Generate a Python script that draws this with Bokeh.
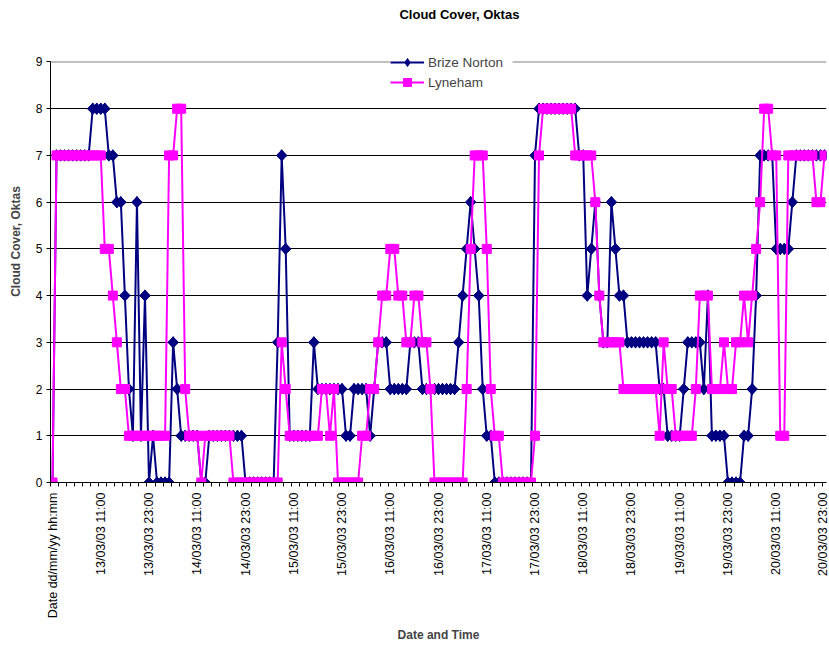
from math import pi
import numpy as np
from bokeh.plotting import figure
from bokeh.models import FixedTicker, Range1d, Label, Legend, LegendItem
from bokeh.embed import file_html
from bokeh.resources import INLINE

# ---------------- data ----------------
tick_labels = ["Date dd/mm/yy hh:mm", "13/03/03 11:00", "13/03/03 23:00",
               "14/03/03 11:00", "14/03/03 23:00", "15/03/03 11:00",
               "15/03/03 23:00", "16/03/03 11:00", "16/03/03 23:00",
               "17/03/03 11:00", "17/03/03 23:00", "18/03/03 11:00",
               "18/03/03 23:00", "19/03/03 11:00", "19/03/03 23:00",
               "20/03/03 11:00", "20/03/03 23:00"]
tick_every = 12  # hourly categories, one label every 12 hours

brize_norton = [
    0, 7, 7, 7, 7, 7, 7, 7, 7, 7, 8, 8,
    8, 8, 7, 7, 6, 6, 4, 2, 1, 6, 1, 4,
    0, 1, 0, 0, 0, 0, 3, 2, 1, 1, 1, 1,
    1, 0, 0, 1, 1, 1, 1, 1, 1, 1, 1, 1,
    0, 0, 0, 0, 0, 0, 0, 0, 3, 7, 5, 1,
    1, 1, 1, 1, 1, 3, 2, 2, 2, 2, 2, 2,
    2, 1, 1, 2, 2, 2, 2, 1, 2, 3, 3, 3,
    2, 2, 2, 2, 2, 3, 3, 3, 2, 2, 2, 2,
    2, 2, 2, 2, 2, 3, 4, 5, 6, 5, 4, 2,
    1, 1, 0, 0, 0, 0, 0, 0, 0, 0, 0, 0,
    7, 8, 8, 8, 8, 8, 8, 8, 8, 8, 8, 7,
    7, 4, 5, 6, 4, 3, 3, 6, 5, 4, 4, 3,
    3, 3, 3, 3, 3, 3, 3, 2, 2, 1, 1, 1,
    1, 2, 3, 3, 3, 3, 2, 4, 1, 1, 1, 1,
    0, 0, 0, 0, 1, 1, 2, 4, 7, 7, 7, 7,
    5, 5, 5, 5, 6, 7, 7, 7, 7, 7, 7, 7,
    7]

lyneham = [
    0, 7, 7, 7, 7, 7, 7, 7, 7, 7, 7, 7,
    7, 5, 5, 4, 3, 2, 2, 1, 1, 1, 1, 1,
    1, 1, 1, 1, 1, 7, 7, 8, 8, 2, 1, 1,
    1, 0, 1, 1, 1, 1, 1, 1, 1, 0, 0, 0,
    0, 0, 0, 0, 0, 0, 0, 0, 0, 3, 2, 1,
    1, 1, 1, 1, 1, 1, 1, 2, 2, 1, 2, 0,
    0, 0, 0, 0, 0, 1, 1, 2, 2, 3, 4, 4,
    5, 5, 4, 4, 3, 3, 4, 4, 3, 3, 2, 0,
    0, 0, 0, 0, 0, 0, 0, 2, 5, 7, 7, 7,
    5, 2, 1, 1, 0, 0, 0, 0, 0, 0, 0, 0,
    1, 7, 8, 8, 8, 8, 8, 8, 8, 8, 7, 7,
    7, 7, 7, 6, 4, 3, 3, 3, 3, 3, 2, 2,
    2, 2, 2, 2, 2, 2, 2, 1, 3, 2, 2, 1,
    1, 1, 1, 1, 2, 4, 4, 4, 2, 2, 2, 3,
    2, 2, 3, 3, 4, 3, 4, 5, 6, 8, 8, 7,
    7, 1, 1, 7, 7, 7, 7, 7, 7, 7, 6, 6,
    7]

# ---------------- figure ----------------
n = len(brize_norton)
x = list(range(n))
tick_pos = list(range(0, n, tick_every))
minor_pos = [k - 0.5 for k in range(0, n + 1, 2)]

FONT = "Liberation Sans"
Y_TOP = 9 + 62 / 47.11        # room above the plot area for title and legend
LEGEND_X = 340                 # legend left edge, px from the plot-area left
LEGEND_W = 122                 # legend box width, px
PX_PER_X = 776 / n             # plot-area width / number of categories

p = figure(width=829, height=645,
           x_range=Range1d(-0.5, n - 0.5), y_range=Range1d(0, Y_TOP),
           output_backend="svg", toolbar_location=None,
           min_border_left=50, min_border_right=3,
           min_border_top=0, min_border_bottom=159)
p.outline_line_color = None
p.background_fill_color = "white"
p.border_fill_color = "white"

p.xgrid.grid_line_color = None
p.ygrid.ticker = FixedTicker(ticks=list(range(1, 9)))
p.ygrid.grid_line_color = "#000000"
p.ygrid.grid_line_width = 1

# grey plot-area border along the top, broken where the legend box sits
gap_l = -0.5 + LEGEND_X / PX_PER_X
gap_r = -0.5 + (LEGEND_X + LEGEND_W) / PX_PER_X
p.segment(x0=[-0.5, gap_r], y0=[9, 9], x1=[gap_l, n - 0.5], y1=[9, 9],
          line_color="#808080", line_width=1)

xa = p.xaxis[0]
xa.ticker = FixedTicker(ticks=tick_pos, minor_ticks=minor_pos)
xa.major_label_overrides = {pos: lab for pos, lab in zip(tick_pos, tick_labels)}
xa.major_label_orientation = pi / 2
xa.major_tick_out = 0
xa.major_tick_in = 0
xa.minor_tick_out = 4
xa.minor_tick_in = 0
xa.minor_tick_line_color = "black"
xa.axis_line_color = "black"
xa.major_label_standoff = 6
xa.major_label_text_font = FONT
xa.major_label_text_font_size = "12.5px"
xa.major_label_text_color = "black"
xa.axis_label = "Date and Time"
xa.axis_label_text_font = FONT
xa.axis_label_text_font_size = "12px"
xa.axis_label_text_font_style = "bold"
xa.axis_label_standoff = 7

ya = p.yaxis[0]
ya.bounds = (0, 9)
ya.ticker = FixedTicker(ticks=list(range(0, 10)))
ya.major_tick_out = 4
ya.major_tick_in = 0
ya.minor_tick_out = 0
ya.minor_tick_in = 0
ya.axis_line_color = "black"
ya.major_label_standoff = 4
ya.major_label_text_font = FONT
ya.major_label_text_font_size = "12px"
ya.major_label_text_color = "black"
ya.axis_label = "Cloud Cover, Oktas"
ya.axis_label_text_font = FONT
ya.axis_label_text_font_size = "12px"
ya.axis_label_text_font_style = "bold"
ya.axis_label_standoff = 10

NAVY = "#000080"
PINK = "#FF00FF"
bl = p.line(x, brize_norton, line_color=NAVY, line_width=2)
# diamond key for the legend, hidden beneath the rotated-square markers
bkey = p.scatter(x, brize_norton, marker="diamond", size=11.5,
                 fill_color=NAVY, line_color=NAVY)
bm = p.scatter(x, brize_norton, marker="square", angle=pi / 4, size=7.5,
               fill_color=NAVY, line_color=NAVY)
ll = p.line(x, lyneham, line_color=PINK, line_width=2)
lm = p.scatter(x, lyneham, marker="square", size=9,
               fill_color=PINK, line_color=PINK)

legend = Legend(items=[LegendItem(label="Brize Norton", renderers=[bl, bkey]),
                       LegendItem(label="Lyneham", renderers=[ll, lm])],
                location=(LEGEND_X, 390), orientation="vertical")
legend.background_fill_color = "white"
legend.background_fill_alpha = 1
legend.border_line_color = None
legend.label_text_font = FONT
legend.label_text_font_size = "13.5px"
legend.glyph_width = 34
legend.glyph_height = 20
legend.label_height = 20
legend.label_standoff = 4
legend.spacing = 0
legend.padding = 4
legend.margin = 0
p.add_layout(legend)

title = Label(x=101.2, y=9 + 48 / 47.11, text="Cloud Cover, Oktas", text_align="center",
              text_baseline="middle", text_font=FONT, text_font_size="13px",
              text_font_style="bold", text_color="black")
p.add_layout(title)

open("out.html", "w").write(file_html(p, INLINE))
